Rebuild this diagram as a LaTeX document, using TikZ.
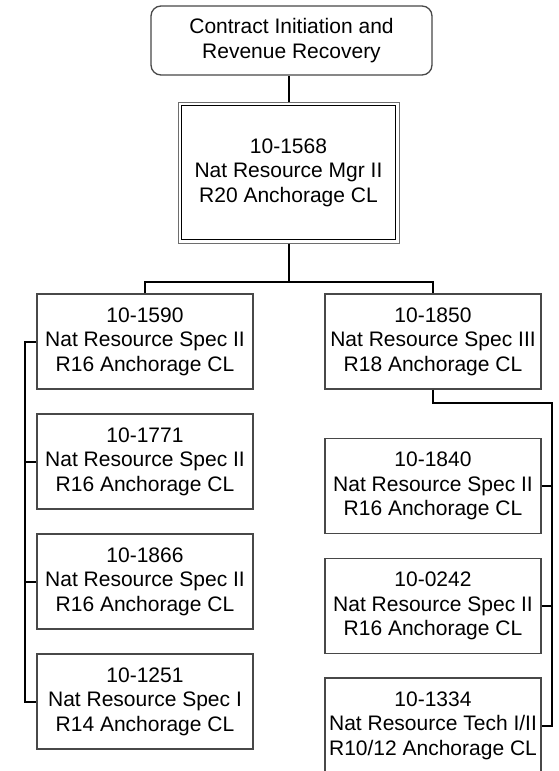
\documentclass[tikz,border=0pt]{standalone}
\usepackage{fontspec}
\setmainfont{Liberation Sans}
\definecolor{boxline}{RGB}{72,72,72}
\definecolor{outerline}{RGB}{110,110,110}
\begin{document}
\begin{tikzpicture}[x=1pt,y=-1pt,
  every node/.style={font=\fontsize{21}{24.5}\selectfont, align=center, inner sep=0pt},
  posbox/.style={draw=boxline, line width=1.3pt, minimum width=216pt, minimum height=95pt, fill=white},
  headbox/.style={draw=boxline, line width=1.3pt, rounded corners=10pt, minimum width=281pt, minimum height=69pt},
  mgrbox/.style={draw=outerline, line width=1pt, minimum width=221pt, minimum height=141pt},
  conn/.style={draw=black, line width=2pt}]
\useasboundingbox (0,0) rectangle (559,771);
\fill[white] (0,0) rectangle (559,771);

\node[headbox] (top) at (291.5,40.5) {Contract Initiation and\\Revenue Recovery};
\node[mgrbox] (mgr) at (288.5,172.5) {10-1568\\Nat Resource Mgr II\\R20 Anchorage CL};
\draw[draw=black, line width=1.3pt] ([shift={(4,4)}]mgr.north west) rectangle ([shift={(-4,-4)}]mgr.south east);

\node[posbox] (b1) at (145,341.5) {10-1590\\Nat Resource Spec II\\R16 Anchorage CL};
\node[posbox] (b2) at (145,461.5) {10-1771\\Nat Resource Spec II\\R16 Anchorage CL};
\node[posbox] (b3) at (145,581.5) {10-1866\\Nat Resource Spec II\\R16 Anchorage CL};
\node[posbox] (b4) at (145,701.5) {10-1251\\Nat Resource Spec I\\R14 Anchorage CL};

\node[posbox] (r1) at (433,341.5) {10-1850\\Nat Resource Spec III\\R18 Anchorage CL};
\node[posbox] (r2) at (433,486) {10-1840\\Nat Resource Spec II\\R16 Anchorage CL};
\node[posbox] (r3) at (433,606) {10-0242\\Nat Resource Spec II\\R16 Anchorage CL};
\node[posbox] (r4) at (433,725.5) {10-1334\\Nat Resource Tech I/II\\R10/12 Anchorage CL};

\coordinate (bar) at (0,282);
\coordinate (lsp) at (25,0);
\coordinate (rsp) at (552,403);

\draw[conn] (mgr.north) -- (mgr.north |- top.south);
\draw[conn] (mgr.south) -- (mgr.south |- bar);
\draw[conn] (b1.north) -- (b1.north |- bar) -- (r1.north |- bar) -- (r1.north);

\draw[conn] (b1.west) -- (b1.west -| lsp) -- (b4.west -| lsp) -- (b4.west);
\draw[conn] (b2.west) -- (b2.west -| lsp);
\draw[conn] (b3.west) -- (b3.west -| lsp);

\draw[conn] (r1.south) |- (rsp) -- (rsp |- r4.east) -- (r4.east);
\draw[conn] (r2.east) -- (r2.east -| rsp);
\draw[conn] (r3.east) -- (r3.east -| rsp);
\end{tikzpicture}
\end{document}
